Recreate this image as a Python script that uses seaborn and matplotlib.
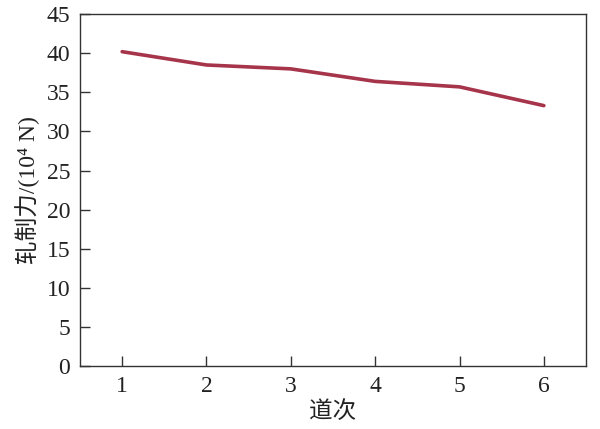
import pandas as pd
import matplotlib
matplotlib.use("Agg")
import matplotlib.pyplot as plt
import seaborn as sns

# Data
passes = [1, 2, 3, 4, 5, 6]
rolling_force = [40.2, 38.5, 38.0, 36.4, 35.7, 33.3]

xticks = [1, 2, 3, 4, 5, 6]
yticks = [0, 5, 10, 15, 20, 25, 30, 35, 40, 45]

df = pd.DataFrame({"pass": passes, "force": rolling_force})

sns.set_style("ticks")
plt.rcParams['font.family'] = ['Liberation Serif', 'Noto Sans CJK SC', 'DejaVu Sans']

fig = plt.figure(figsize=(6, 4.29), dpi=100)
ax = fig.add_axes([0.1333, 0.147, 0.8434, 0.820])

sns.lineplot(data=df, x="pass", y="force", ax=ax, color="#a6354b", linewidth=2.6)

ax.set_xlim(0.5, 6.5)
ax.set_ylim(0, 45)
ax.set_xticks(xticks)
ax.set_yticks(yticks)
ax.tick_params(direction="in", length=7, width=1, colors="#333333",
               labelsize=17, labelcolor="#222222", pad=7)
for side in ["top", "right", "left", "bottom"]:
    ax.spines[side].set_visible(True)
    ax.spines[side].set_color("#333333")
    ax.spines[side].set_linewidth(1)

ax.set_xlabel("道次", fontsize=17, color="#222222", labelpad=3)
ax.set_ylabel("轧制力/(10⁴ N)", fontsize=17, color="#222222", labelpad=5)

fig.savefig("out.png", dpi=100)
